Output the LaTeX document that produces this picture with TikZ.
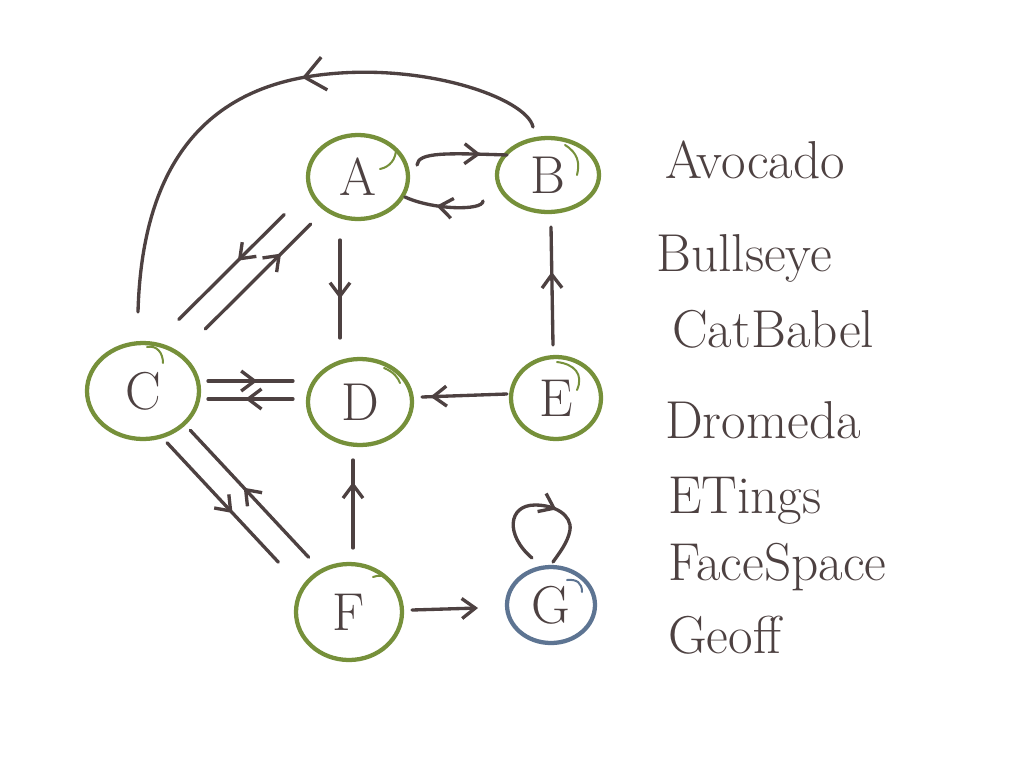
\documentclass[tikz,border=0pt]{standalone}
\usetikzlibrary{shapes.geometric,arrows.meta,decorations.markings,calc}
\definecolor{inkc}{HTML}{4D4141}
\definecolor{grn}{HTML}{76903A}
\definecolor{blu}{HTML}{5D7492}
\begin{document}
\begin{tikzpicture}[x=0.75pt,y=-0.75pt,
  nd/.style={ellipse, draw=grn, line width=3.2pt, inner sep=0pt, outer sep=0pt, text=inkc, font=\fontsize{40}{40}\selectfont},
  sz/.style 2 args={minimum width=#1, minimum height=#2},
  tail/.style={draw=grn, line width=1.5pt, line cap=round},
  lbl/.style={anchor=base west, text=inkc, inner sep=0pt, font=\fontsize{40}{40}\selectfont},
  edge/.style={draw=inkc, line width=2.5pt, line cap=round, line join=round},
  midarr/.style={postaction={decorate}, decoration={markings, mark=at position #1 with {\arrow[line width=2.5pt]{Straight Barb[length=10pt,width=15pt]}}}},
  bigarr/.style={postaction={decorate}, decoration={markings, mark=at position #1 with {\arrow[line width=2.5pt]{Straight Barb[length=15pt,width=25pt]}}}},
  endarr/.style={-{Straight Barb[length=10pt,width=15pt]}}
]
\useasboundingbox[fill=white] (0,0) rectangle (1024,768);

% nodes
\node[nd, sz={75pt}{63pt}] (A) at (358,177) {A};
\node[nd, sz={76.5pt}{55.5pt}] (B) at (548,175) {B};
\node[nd, sz={84pt}{72pt}] (C) at (143,391) {C};
\node[nd, sz={78pt}{64.5pt}] (D) at (360,402) {D};
\node[nd, sz={67.5pt}{61.5pt}] (E) at (556,398) {E};
\node[nd, sz={79.5pt}{72pt}] (F) at (349,612) {F};
\node[nd, draw=blu, sz={66pt}{57pt}] (G) at (551,605) {G};

% pen overlap tails
\draw[tail] ($(A)+(22,-8)$) .. controls ($(A)+(32,-10)$) and ($(A)+(38,-18)$) .. ($(A)+(38,-28)$);
\draw[tail] ($(B)+(29,0)$) .. controls ($(B)+(32,-12)$) and ($(B)+(30,-22)$) .. ($(B)+(17,-30)$);
\draw[tail] ($(C)+(4,-44)$) .. controls ($(C)+(14,-46)$) and ($(C)+(20,-38)$) .. ($(C)+(20,-28)$);
\draw[tail] ($(D)+(24,-34)$) .. controls ($(D)+(34,-30)$) and ($(D)+(38,-24)$) .. ($(D)+(40,-19)$);
\draw[tail] ($(E)+(1,-36)$) .. controls ($(E)+(18,-34)$) and ($(E)+(28,-24)$) .. ($(E)+(21,-8)$);
\draw[tail] ($(F)+(24,-35)$) .. controls ($(F)+(36,-40)$) and ($(F)+(46,-30)$) .. ($(F)+(48,-20)$);
\draw[tail, draw=blu] ($(G)+(16,-25)$) .. controls ($(G)+(26,-26)$) and ($(G)+(31,-22)$) .. ($(G)+(31,-13)$);

% labels
\node[lbl] (lA) at (665,178) {Avocado};
\node[lbl] (lB) at (656,271) {Bullseye};
\node[lbl] (lC) at (672,347) {CatBabel};
\node[lbl] (lD) at (665,438) {Dromeda};
\node[lbl] (lE) at (668,513) {ETings};
\node[lbl] (lF) at (668,580) {FaceSpace};
\node[lbl] (lG) at (668,653) {Geoff};

% A <-> B
\draw[edge, midarr=0.72] ($(A.east)+(9,-12)$) .. controls ($(A.east)+(10,-25)$) and ($(B.west)+(-50,-22)$) .. ($(B.west)+(10,-20)$);
\draw[edge, midarr=0.6] ($(B.west)+(-14,26)$) .. controls ($(B.west)+(-14,36)$) and ($(A.east)+(25,33)$) .. ($(A.east)+(-3,20)$);

% A -> D, E -> B, E -> D, F -> D
\draw[edge, midarr=0.6] ($(A.south)+(-18,21)$) -- ($(D.north)+(-20,-21)$);
\draw[edge, midarr=0.62] ($(E.north)+(-3,-12)$) -- ($(B.south)+(3,15)$);
\draw[edge, midarr=0.9] ($(E.west)+(-4,-4)$) -- ($(D.east)+(10,-5)$);
\draw[edge, midarr=0.75] ($(F.north)+(4,-16)$) -- ($(D.south)+(-7,15)$);

% C <-> A
\draw[edge, midarr=0.44] ($(A)!0.26!(C)+(-18,-18)$) -- ($(A)!0.75!(C)+(-18,-18)$);
\draw[edge, midarr=0.72] ($(C)!0.29!(A)$) -- ($(C)!0.78!(A)$);

% C <-> D
\draw[edge, midarr=0.58] ($(C.east)+(9,-10)$) -- ($(D.west)+(-15,-21)$);
\draw[edge, midarr=0.56] ($(D.west)+(-15,-3)$) -- ($(C.east)+(9,8)$);

% C <-> F
\draw[edge, midarr=0.59] ($(C)!0.18!(F)+(-13,12)$) -- ($(C)!0.72!(F)+(-13,12)$);
\draw[edge, midarr=0.55] ($(F)!0.225!(C)+(6,-5)$) -- ($(F)!0.80!(C)+(6,-5)$);

% F -> G
\draw[edge, endarr] ($(F.east)+(10,-2)$) -- ($(G.west)+(-29,3)$);

% G self loop
\draw[edge, midarr=0.6] ($(G.north)+(-19,-9)$)
  .. controls ($(G.north)+(-46,-32)$) and ($(G.north)+(-43,-62)$) .. ($(G.north)+(-16,-62)$)
  .. controls ($(G.north)+(4,-62)$) and ($(G.north)+(21,-52)$) .. ($(G.north)+(19,-37)$)
  .. controls ($(G.north)+(17,-25)$) and ($(G.north)+(9,-15)$) .. ($(G.north)+(2,-5)$);

% B -> C big arc
\coordinate (bcs) at ($(B.north)+(-15,-11)$);
\coordinate (bce) at ($(C.north)+(-5,-31)$);
\draw[edge, bigarr=0.44] (bcs) .. controls (527,98) and (420,60) .. (312,76)
  .. controls (205,92) and (142,165) .. (bce);
\end{tikzpicture}
\end{document}
